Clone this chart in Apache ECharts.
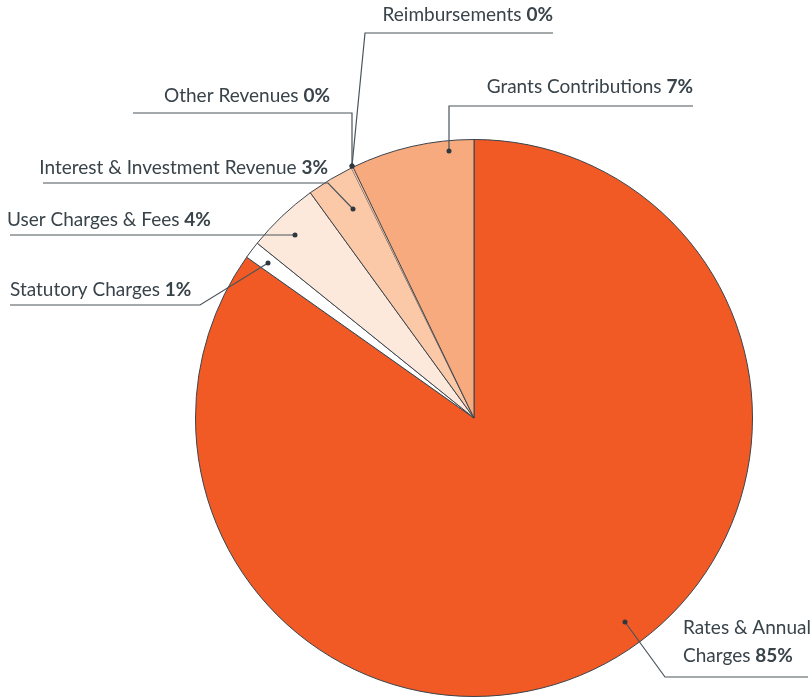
<!DOCTYPE html>
<html>
<head>
<meta charset="utf-8">
<script src="https://cdn.jsdelivr.net/npm/echarts@6/dist/echarts.min.js"></script>
<style>
  html, body { margin: 0; padding: 0; background: #fff; }
  #chart { width: 810px; height: 697px; }
</style>
</head>
<body>
<div id="chart"></div>
<script>
// revenue shares, clockwise from 12 o'clock
var names = [
  'Rates & Annual Charges',
  'Statutory Charges',
  'User Charges & Fees',
  'Interest & Investment Revenue',
  'Other Revenues',
  'Reimbursements',
  'Grants Contributions'
];
var shares = [84.8, 1.0, 4.2, 2.75, 0.05, 0.05, 7.15];
var colors = ['#F15A24', '#FFFFFF', '#FDE8DC', '#FBC8A8', '#FBC8A8', '#F8AA7F', '#F8AA7F'];

// label placement: text anchor + leader line (dot -> elbow -> end)
var labelPos = [
  { x: 683, y: 642, align: 'left', pts: [[625, 622], [665, 677], [808, 677]] },
  { x: 10, y: 290, align: 'left', pts: [[268, 263], [200, 305], [10, 305]] },
  { x: 7, y: 220, align: 'left', pts: [[295, 235], [200, 235], [10, 235]] },
  { x: 328, y: 168, align: 'right', pts: [[353, 209], [328, 183], [43, 183]] },
  { x: 330, y: 96, align: 'right', pts: [[352, 166], [352, 113], [133, 113]] },
  { x: 553, y: 15, align: 'right', pts: [[352, 166], [365, 33], [553, 33]] },
  { x: 693, y: 87, align: 'right', pts: [[449, 151], [449, 106], [693, 106]] }
];

var textColor = '#39434A';
var lineColor = '#4B545A';

var chart = echarts.init(document.getElementById('chart'));

var data = names.map(function (n, i) {
  var item = { name: n, value: shares[i], itemStyle: { color: colors[i] } };
  if (shares[i] < 0.5) item.itemStyle.borderWidth = 0;
  return item;
});

// leader lines and dots drawn above the pie
var guides = [];
labelPos.forEach(function (p) {
  guides.push({
    type: 'polyline',
    shape: { points: p.pts },
    style: { stroke: lineColor, lineWidth: 1.2, fill: null },
    z: 100
  });
  guides.push({
    type: 'circle',
    shape: { cx: p.pts[0][0], cy: p.pts[0][1], r: 2.5 },
    style: { fill: '#2F383E' },
    z: 101
  });
});

var option = {
  animation: false,
  graphic: guides,
  series: [{
    type: 'pie',
    center: [474, 418],
    radius: 278.5,
    startAngle: 90,
    clockwise: true,
    avoidLabelOverlap: false,
    data: data,
    itemStyle: {
      borderColor: '#3A444C',
      borderWidth: 1
    },
    label: {
      show: true,
      position: 'outside',
      formatter: function (p) {
        var name = p.name;
        if (p.dataIndex === 0) name = 'Rates & Annual\nCharges';
        var parts = name.split('\n');
        var last = parts.length - 1;
        var out = parts.map(function (s, k) {
          return '{n|' + s + (k === last ? ' ' : '') + '}';
        }).join('\n');
        return out + '{b|' + Math.round(p.value) + '%}';
      },
      rich: {
        n: { fontFamily: 'Lato', fontSize: 19, color: textColor, lineHeight: 28 },
        b: { fontFamily: 'Lato', fontSize: 19, fontWeight: 'bold', color: textColor, lineHeight: 28 }
      }
    },
    labelLine: { show: false },
    labelLayout: function (params) {
      var p = labelPos[params.dataIndex];
      return {
        x: p.x,
        y: p.y,
        align: p.align,
        verticalAlign: 'middle'
      };
    }
  }]
};

chart.setOption(option);
</script>
</body>
</html>
